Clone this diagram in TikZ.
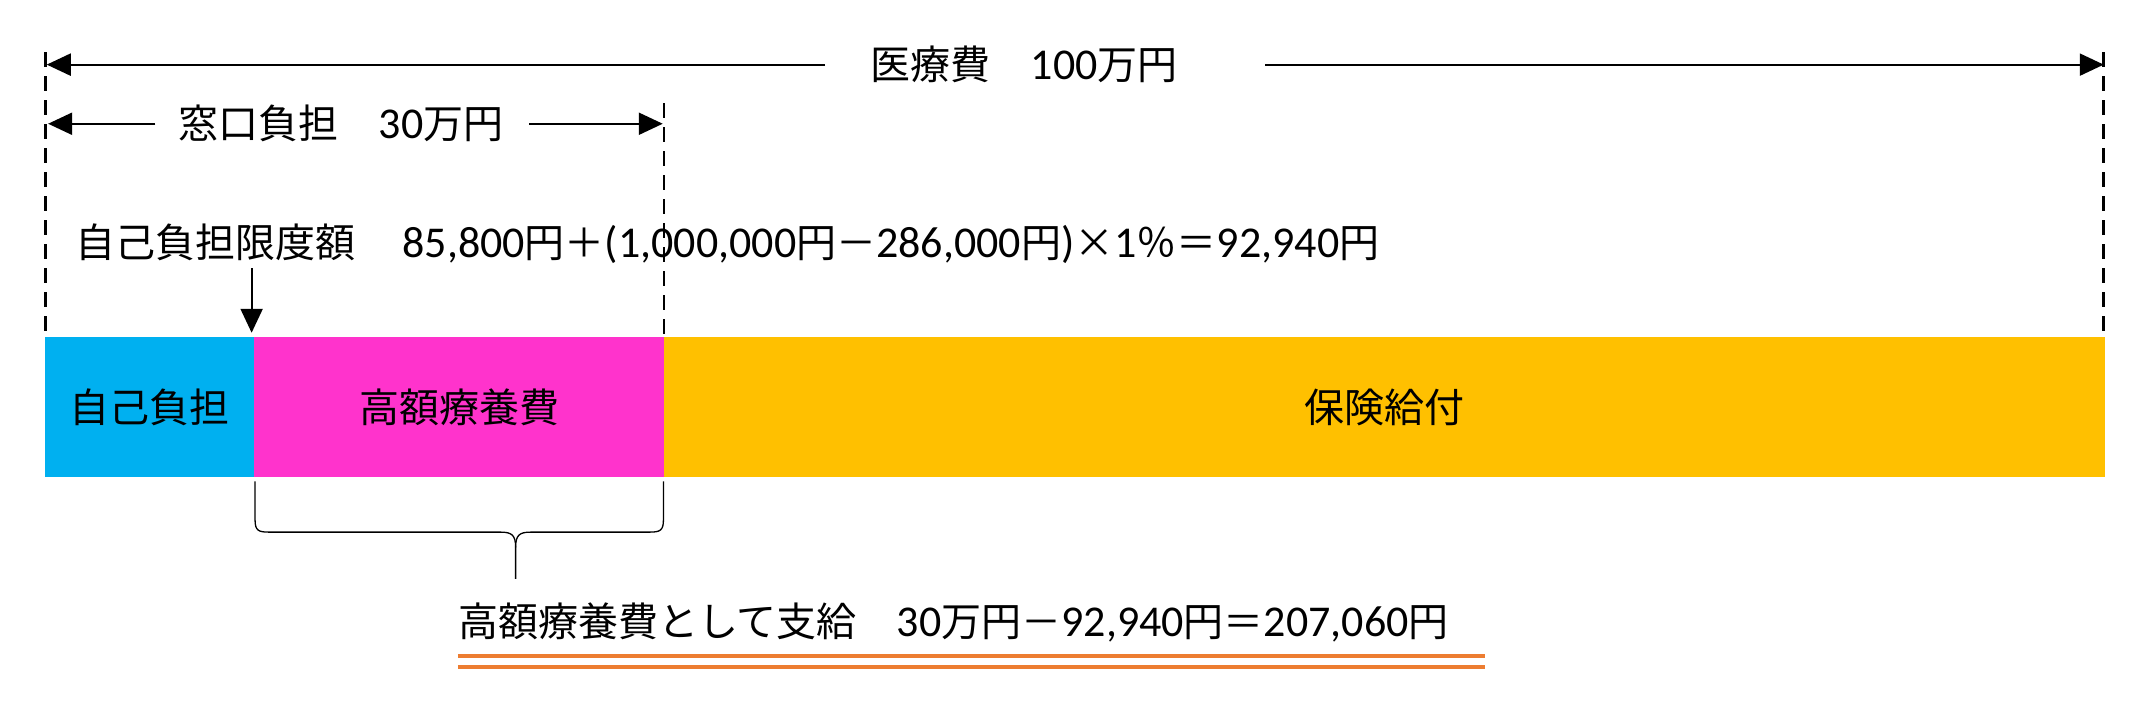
\documentclass[tikz,border=0pt]{standalone}
\usepackage{fontspec}
\setmainfont{Noto Sans CJK JP}
\newfontfamily\num{Carlito}[Scale=1.1]
\usetikzlibrary{arrows.meta}
\definecolor{cblue}{HTML}{00B0F0}
\definecolor{cmag}{HTML}{FF33CC}
\definecolor{corg}{HTML}{FFC000}
\definecolor{cline}{HTML}{ED7D31}
\tikzset{
  lbl/.style={inner sep=0pt, font=\fontsize{40}{46}\selectfont},
  bar/.style={inner sep=0pt, minimum height=140.25pt, font=\fontsize{40}{46}\selectfont},
  guide/.style={line width=2.6pt, dash pattern=on 15pt off 9pt},
  dim/.style={line width=2.2pt, -{Triangle[length=24pt,width=22pt]}},
}
\begin{document}
\begin{tikzpicture}[x=1.375pt,y=-1.375pt]
\useasboundingbox (0,0) rectangle (1568,515);
% guide coordinates
\coordinate (gl0) at (33,38);  \coordinate (gl1) at (33,245);
\coordinate (gm0) at (483,75); \coordinate (gm1) at (483,245);
\coordinate (gr0) at (1530,38);\coordinate (gr1) at (1530,245);
\draw[guide] (gl0) -- (gl1);
\draw[guide] (gm0) -- (gm1);
\draw[guide] (gr0) -- (gr1);
% top dimension
\node[lbl] (total) at (745,47) {医療費　{\num 100}万円};
\coordinate (tl0) at (600,47); \coordinate (tl1) at (34,47);
\coordinate (tr0) at (920,47); \coordinate (tr1) at (1530,47);
\draw[dim] (tl0) -- (tl1);
\draw[dim] (tr0) -- (tr1);
% second dimension
\node[lbl] (window) at (248,90) {窓口負担　{\num 30}万円};
\coordinate (wl0) at (113,90); \coordinate (wl1) at (35,90);
\coordinate (wr0) at (385,90); \coordinate (wr1) at (482,90);
\draw[dim] (wl0) -- (wl1);
\draw[dim] (wr0) -- (wr1);
% formula
\node[lbl, anchor=west] (formula) at (55,177) {自己負担限度額　\,{\num 85,800}円＋{\num(1,000,000}円－{\num 286,000}円{\num)}×{\num 1}％＝{\num 92,940}円};
\coordinate (da0) at (183,195); \coordinate (da1) at (183,242);
\draw[dim] (da0) -- (da1);
% bar
\node[bar, fill=cblue, minimum width=209pt] (self) at (109,296) {自己負担};
\node[bar, fill=cmag, minimum width=409.75pt] (kogaku) at (334,296) {高額療養費};
\node[bar, fill=corg, minimum width=1441pt] (hoken) at (1007,296) {保険給付};
% brace
\draw[line width=1.3pt] (185.5,350) -- (185.5,378) .. controls (185.5,386) and (188,387) .. (196,387)
  -- (364,387) .. controls (372,387) and (375,389) .. (375,398) -- (375,421);
\draw[line width=1.3pt] (375,398) .. controls (375,389) and (378,387) .. (386,387)
  -- (472,387) .. controls (480,387) and (482.5,386) .. (482.5,378) -- (482.5,350);
% bottom text
\node[lbl, anchor=west] (pay) at (333,453) {高額療養費として支給　{\num 30}万円－{\num 92,940}円＝{\num 207,060}円};
\coordinate (u0) at (333,477); \coordinate (u1) at (1080,477);
\coordinate (v0) at (333,485); \coordinate (v1) at (1080,485);
\draw[cline, line width=4pt] (u0) -- (u1);
\draw[cline, line width=4pt] (v0) -- (v1);
\end{tikzpicture}
\end{document}
